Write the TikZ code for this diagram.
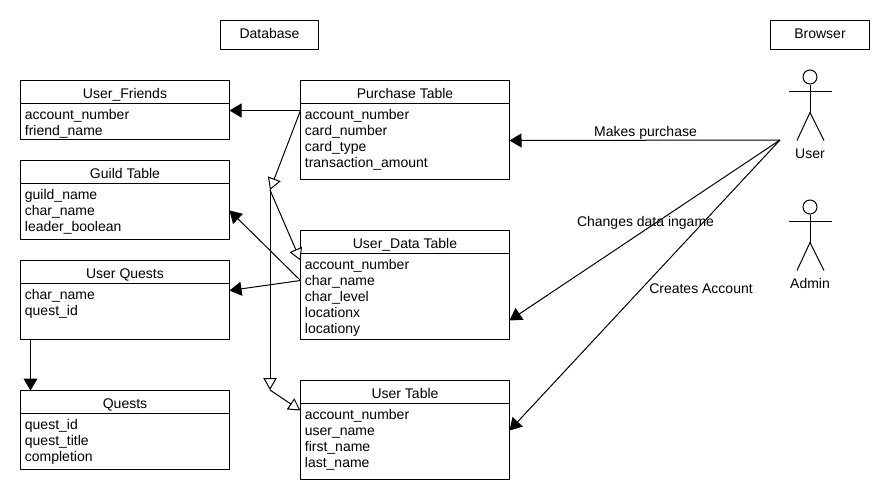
\documentclass[tikz,border=0pt]{standalone}
\usepackage{fontspec}
\setmainfont{Liberation Sans}
\usetikzlibrary{calc}
\usetikzlibrary{positioning}
\usetikzlibrary{arrows.meta}

% Field list of a table: height, then the lines
\newcommand{\fieldlist}[2]{\parbox[c][#1][t]{150.15pt}{\rule{0pt}{12.35pt}#2}}

\tikzset{
    tblhead/.style={draw, anchor=north west, outer sep=0pt, inner sep=0pt, minimum width=156.75pt, minimum height=17.25pt, text height=9.75pt, text depth=0pt},
    tblbody/.style={draw, outer sep=0pt, inner xsep=3.3pt, inner ysep=0pt, minimum width=156.75pt},
    sidebox/.style={draw, anchor=north west, outer sep=0pt, minimum height=21.75pt, text height=4.5pt, text depth=0pt},
    solidarrow/.style={-{Triangle[length=9pt,width=10.5pt]}},
    openarrow/.style={-{Triangle[open,length=9pt,width=10pt,fill=white]}}
}

\begin{document}
\begin{tikzpicture}[x=0.75pt, y=-0.75pt, line width=0.75pt, font=\fontsize{10.5}{12}\selectfont]
            \useasboundingbox (0,0) rectangle (890,500);

            % Side titles
            \node[sidebox, minimum width=73.5pt] (Database) at (220.5,20.5) {Database};
            \node[sidebox, minimum width=74.25pt] (Browser) at (770.5,20.5) {Browser};

            % Left tables
            \node[tblhead] (FriendsHead) at (20.5,80.5) {User\_Friends};
            \node[tblbody, below=0pt of FriendsHead] (FriendsBody) {\fieldlist{27pt}{account\_number\\friend\_name}};

            \node[tblhead] (GuildHead) at (20.5,160.5) {Guild Table};
            \node[tblbody, below=0pt of GuildHead] (GuildBody) {\fieldlist{42pt}{guild\_name\\char\_name\\leader\_boolean}};

            \node[tblhead] (UserQuestsHead) at (20.5,260.5) {User Quests};
            \node[tblbody, below=0pt of UserQuestsHead] (UserQuestsBody) {\fieldlist{42pt}{char\_name\\quest\_id}};

            \node[tblhead] (QuestsHead) at (20.5,390.5) {Quests};
            \node[tblbody, below=0pt of QuestsHead] (QuestsBody) {\fieldlist{42pt}{quest\_id\\quest\_title\\completion}};

            % Middle tables
            \node[tblhead] (PurchaseHead) at (300.5,80.5) {Purchase Table};
            \node[tblbody, below=0pt of PurchaseHead] (PurchaseBody) {\fieldlist{57pt}{account\_number\\card\_number\\card\_type\\transaction\_amount}};

            \node[tblhead] (DataHead) at (300.5,230.5) {User\_Data Table};
            \node[tblbody, below=0pt of DataHead] (DataBody) {\fieldlist{64.5pt}{account\_number\\char\_name\\char\_level\\locationx\\locationy}};

            \node[tblhead] (UserHead) at (300.5,380.5) {User Table};
            \node[tblbody, below=0pt of UserHead] (UserBody) {\fieldlist{57pt}{account\_number\\user\_name\\first\_name\\last\_name}};

            % Draw the stick figures
            \foreach \who/\yy in {User/77, Admin/207} {
                \node[draw, circle, inner sep=0pt, minimum size=10.5pt] (Head\who) at (810,\yy) {};
                \draw (Head\who.south) -- ++(0,28) coordinate (Hip\who);
                \draw ($(Head\who)+(-21,14)$) -- ++(43,0);
                \draw ($(Hip\who)+(-13,28)$) -- (Hip\who) -- ($(Hip\who)+(14,28)$);
                \node (Label\who) at (810,\yy+76.5) {\who};
            }

            % Inheritance lines between the tables
            \coordinate (Split) at (270,190);
            \coordinate (Bend) at (270,390);
            \draw[openarrow] ($(PurchaseBody.north west)+(0,7)$) -- (Split);
            \draw[openarrow] (Split) -- ($(DataBody.north west)+(0,7)$);
            \draw[openarrow] (Split) -- (Bend);
            \draw[openarrow] (Bend) -- ($(UserBody.north west)+(0,7)$);

            % Links between the tables
            \draw[solidarrow] ($(PurchaseBody.north west)+(0,7)$) -- ($(FriendsBody.north east)+(0,7)$);
            \draw[solidarrow] ($(DataBody.north west)+(0,27)$) -- ($(GuildBody.north east)+(0,27)$);
            \draw[solidarrow] ($(DataBody.north west)+(0,27)$) -- ($(UserQuestsBody.north east)+(0,7)$);
            \draw[solidarrow] ($(UserQuestsBody.south west)+(10,0)$) -- ($(QuestsHead.north west)+(10,0)$);

            % Links from the user
            \draw[solidarrow] ($(HeadUser)+(-30,63)$) -- ($(PurchaseBody.north east)+(0,37)$);
            \draw[solidarrow] ($(HeadUser)+(-30,63)$) -- ($(DataBody.north east)+(0,67)$);
            \draw[solidarrow] ($(HeadUser)+(-30,63)$) -- ($(UserBody.north east)+(0,27)$);

            % Link labels
            \node (Purchase) at (645.5,133) {Makes purchase};
            \node (Changes) at (645.5,223) {Changes data ingame};
            \node (Creates) at (701,289) {Creates Account};
\end{tikzpicture}
\end{document}
